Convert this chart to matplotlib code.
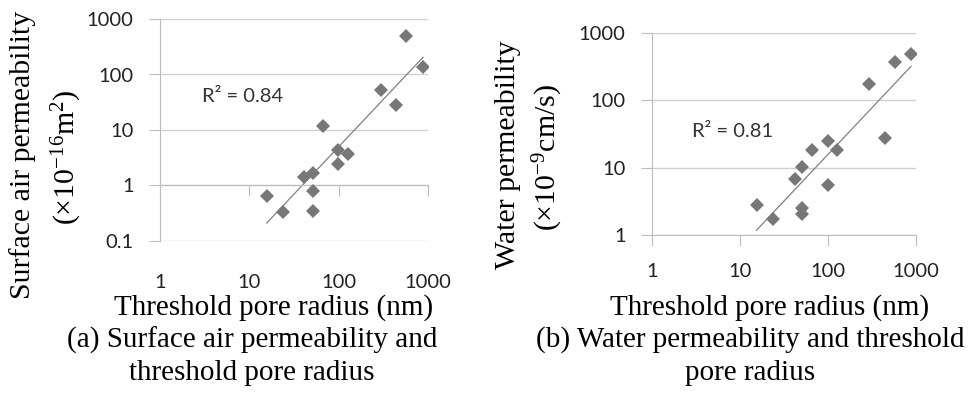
import matplotlib.pyplot as plt
import numpy as np

plt.rcParams["mathtext.fontset"] = "custom"
plt.rcParams["mathtext.rm"] = "Liberation Serif"
plt.rcParams["mathtext.it"] = "Liberation Serif:italic"

# (a) surface air permeability vs threshold pore radius
radius_a = [15.7, 23.7, 41, 51, 51, 51, 66.5, 98, 98, 127, 300, 438, 571, 879]
air_perm = [0.65, 0.33, 1.45, 1.7, 0.81, 0.35, 11.6, 4.4, 2.4, 3.7, 51.5, 28.8, 484, 139]

# (b) water permeability vs threshold pore radius
radius_b = [15.4, 23.5, 42.2, 51.2, 51.2, 51.2, 66.5, 99.5, 99.5, 128, 294, 440, 572, 878]
water_perm = [2.8, 1.71, 6.7, 10.4, 2.55, 2.03, 18.4, 25.3, 5.48, 18, 172, 27.4, 366, 492]

r2_a = "R² = 0.84"
r2_b = "R² = 0.81"
xticks = [1, 10, 100, 1000]
yticks_a = [0.1, 1, 10, 100, 1000]
yticks_b = [1, 10, 100, 1000]
tick_labels = {0.1: "0.1", 1: "1", 10: "10", 100: "100", 1000: "1000"}

marker_col = "#777777"
grid_col = "#d0d0d0"
axis_col = "#bcbcbc"
tick_font = "Lato"
serif = "Liberation Serif"

fig = plt.figure(figsize=(9.71, 4.07), dpi=100)
W, H = 971, 407


def px_axes(x0, y0, x1, y1):
    return fig.add_axes([x0 / W, 1 - y1 / H, (x1 - x0) / W, (y1 - y0) / H])


def power_trend(ax, x, y):
    lx, ly = np.log10(x), np.log10(y)
    k, b = np.polyfit(lx, ly, 1)
    xs = np.array([min(x), max(x)])
    ax.plot(xs, 10 ** (k * np.log10(xs) + b), color="#808080", lw=0.9, zorder=2)


def style(ax, yticks, ylow, cross_at_one):
    ax.set_xscale("log")
    ax.set_yscale("log")
    ax.set_xlim(1, 1000)
    ax.set_ylim(ylow, 1000)
    ax.set_yticks(yticks)
    ax.set_yticklabels([tick_labels[t] for t in yticks], fontfamily=tick_font, fontsize=14.5)
    ax.yaxis.set_minor_locator(plt.NullLocator())
    ax.xaxis.set_minor_locator(plt.NullLocator())
    ax.set_xticks(xticks)
    ax.grid(axis="y", color=grid_col, lw=1)
    ax.set_axisbelow(True)
    for s in ("top", "right"):
        ax.spines[s].set_visible(False)
    ax.spines["left"].set_color(axis_col)
    ax.spines["bottom"].set_color(axis_col)
    ax.tick_params(axis="y", length=8, color=axis_col, pad=11, labelcolor="#222222")
    if cross_at_one:
        # excel-style: horizontal axis crosses at y=1, labels stay at the bottom
        ax.spines["bottom"].set_position(("data", 1))
        ax.tick_params(axis="x", length=8, color=axis_col, labelbottom=False)
        sec = ax.secondary_xaxis("bottom")
        sec.set_xticks(xticks)
        sec.set_xticklabels([tick_labels[t] for t in xticks], fontfamily=tick_font, fontsize=14.5)
        sec.xaxis.set_minor_locator(plt.NullLocator())
        sec.spines["bottom"].set_visible(False)
        sec.tick_params(axis="x", length=0, pad=24, labelcolor="#222222")
    else:
        ax.set_xticklabels([tick_labels[t] for t in xticks], fontfamily=tick_font, fontsize=14.5)
        ax.tick_params(axis="x", length=8, color=axis_col, pad=12, labelcolor="#222222")


ax1 = px_axes(160, 19, 428, 241)
style(ax1, yticks_a, 0.1, True)
ax1.plot(radius_a, air_perm, "D", ms=7.6, mew=0, color=marker_col, zorder=3)
power_trend(ax1, radius_a, air_perm)
ax1.text(2.95, 40, r2_a, fontfamily=tick_font, fontsize=14.5, color="#333333", va="center")

ax2 = px_axes(652, 33, 916, 235)
style(ax2, yticks_b, 1, False)
ax2.plot(radius_b, water_perm, "D", ms=7.6, mew=0, color=marker_col, zorder=3)
power_trend(ax2, radius_b, water_perm)
ax2.text(2.85, 34, r2_b, fontfamily=tick_font, fontsize=14.5, color="#333333", va="center")

ylab = dict(fontfamily=serif, fontsize=21.5, ha="center", va="center", rotation=90)
fig.text(23 / W, 1 - 155 / H, "Surface air permeability", **ylab)
fig.text(67 / W, 1 - 157 / H, "(×10$^{\\mathregular{-16}}$m$^{\\mathregular{2}}$)", **ylab)
fig.text(508 / W, 1 - 155 / H, "Water permeability", **ylab)
fig.text(548 / W, 1 - 157 / H, "(×10$^{\\mathregular{-9}}$cm/s)", **ylab)

lab = dict(fontfamily=serif, fontsize=21, ha="center", va="center")
fig.text(274 / W, 1 - 308 / H, "Threshold pore radius (nm)", **lab)
fig.text(770 / W, 1 - 308 / H, "Threshold pore radius (nm)", **lab)
fig.text(252 / W, 1 - 340 / H, "(a) Surface air permeability and", **lab)
fig.text(252 / W, 1 - 373 / H, "threshold pore radius", **lab)
fig.text(750 / W, 1 - 340 / H, "(b) Water permeability and threshold", **lab)
fig.text(750 / W, 1 - 373 / H, "pore radius", **lab)

fig.savefig("out.png", dpi=100)
